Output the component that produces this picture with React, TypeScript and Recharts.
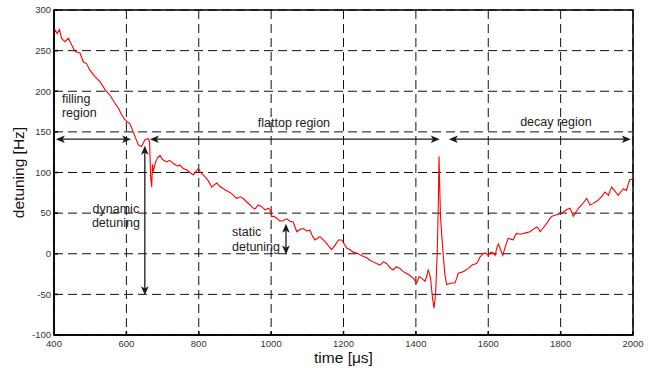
import {
  LineChart,
  Line,
  XAxis,
  YAxis,
  CartesianGrid,
  ReferenceLine,
  ReferenceArea,
  ReferenceDot
} from 'recharts'

// time in microseconds
const times = [
  400, 402, 409, 415, 421, 430, 440, 449, 458, 472, 481, 490, 499, 513, 527, 541, 555, 569, 578, 587,
  596, 610, 619, 633, 642, 651, 660, 664, 667, 670, 672, 674, 680, 686, 693, 700, 711, 720, 730, 740,
  748, 757, 767, 776, 785, 792, 799, 805, 817, 826, 836, 843, 850, 858, 868, 880, 891, 898, 905, 914,
  923, 932, 942, 948, 955, 964, 974, 983, 992, 997, 1001, 1008, 1015, 1025, 1034, 1043, 1052, 1061, 1066, 1071,
  1080, 1089, 1098, 1107, 1114, 1121, 1128, 1135, 1142, 1149, 1158, 1167, 1176, 1186, 1195, 1202, 1209, 1218, 1227, 1236,
  1245, 1254, 1264, 1273, 1282, 1291, 1301, 1310, 1319, 1328, 1337, 1346, 1356, 1365, 1374, 1384, 1393, 1402, 1409, 1416,
  1425, 1430, 1434, 1438, 1441, 1446, 1450, 1453, 1455, 1457, 1459, 1461, 1462, 1464, 1466, 1468, 1472, 1476, 1480, 1485,
  1492, 1499, 1508, 1513, 1517, 1524, 1531, 1538, 1545, 1550, 1554, 1561, 1568, 1573, 1577, 1582, 1586, 1593, 1600, 1607,
  1614, 1619, 1624, 1628, 1634, 1640, 1648, 1655, 1662, 1669, 1674, 1678, 1688, 1697, 1706, 1715, 1724, 1734, 1739, 1743,
  1752, 1761, 1768, 1775, 1782, 1789, 1796, 1803, 1812, 1820, 1826, 1830, 1835, 1842, 1849, 1858, 1865, 1872, 1877, 1881,
  1890, 1897, 1904, 1913, 1922, 1927, 1932, 1937, 1941, 1950, 1959, 1966, 1973, 1982, 1987, 1991, 2000
]

// detuning in Hz
const detuning = [
  270, 276, 271, 276, 265, 261, 265, 257, 249, 247, 236, 234, 226, 218, 212, 202, 195, 185, 179, 171,
  165, 160, 150, 134, 132, 140, 142, 138, 95, 82, 110, 101, 112, 118, 121, 116, 113, 115, 111, 108,
  109, 105, 103, 100, 97, 101, 105, 100, 95, 90, 82, 85, 87, 83, 80, 77, 74, 71, 68, 70,
  68, 64, 60, 57, 55, 60, 58, 54, 56, 54, 46, 46, 44, 40, 41, 43, 40, 39, 33, 27,
  30, 31, 28, 29, 22, 17, 19, 21, 18, 15, 10, 5, 10, 17, 17, 12, 7, 5, 2, 1,
  -1, -3, -5, -8, -10, -12, -14, -10, -12, -17, -20, -16, -18, -22, -24, -27, -30, -36, -28, -30,
  -34, -28, -20, -25, -32, -55, -67, -55, -45, -20, 0, 40, 60, 120, 80, 46, 20, -4, -25, -38,
  -37, -36, -36, -30, -24, -23, -22, -20, -18, -16, -14, -13, -12, -8, -4, -2, 0, 1, -2, 2,
  1, -2, 8, 12, 5, -2, 10, 19, 18, 17, 22, 25, 24, 25, 26, 27, 30, 33, 31, 27,
  32, 37, 42, 46, 47, 48, 49, 50, 53, 55, 56, 52, 46, 51, 56, 60, 64, 68, 64, 60,
  62, 64, 66, 70, 76, 74, 72, 78, 82, 77, 72, 76, 80, 78, 86, 91, 92
]

const xTicks = [400, 600, 800, 1000, 1200, 1400, 1600, 1800, 2000]
const yTicks = [-100, -50, 0, 50, 100, 150, 200, 250, 300]

// arrows: [x1, y1, x2, y2] in data units
const arrows = [
  [405, 141, 613, 141],
  [665, 141, 1466, 141],
  [1491, 141, 1994, 141],
  [651, 133, 651, -51],
  [1041, 37, 1041, -1]
]

// annotation texts: lines, anchor x, anchor y (first line), alignment
const notes = [
  { lines: ['filling', 'region'], x: 422, y: 191, anchor: 'start' },
  { lines: ['flattop region'], x: 1063, y: 161, anchor: 'middle' },
  { lines: ['decay region'], x: 1787, y: 163, anchor: 'middle' },
  { lines: ['dynamic', 'detuning'], x: 571, y: 56, anchor: 'middle' },
  { lines: ['static', 'detuning'], x: 892, y: 27, anchor: 'start' }
]

const data = times.map((t, i) => ({ t, v: detuning[i] }))

const FONT = '"Liberation Sans", Arial, Helvetica, sans-serif'

function head(tx: number, ty: number, ux: number, uy: number) {
  const L = 9
  const W = 3.8
  const N = 2.2
  const nx = -uy
  const ny = ux
  const bx = tx - ux * L
  const by = ty - uy * L
  const p = [
    [tx, ty],
    [bx + nx * W, by + ny * W],
    [tx - ux * (L - N), ty - uy * (L - N)],
    [bx - nx * W, by - ny * W]
  ]
  return 'M' + p.map((q) => q[0] + ',' + q[1]).join('L') + 'Z'
}

const Arrow = (props: any) => {
  const { x1, y1, x2, y2 } = props
  const len = Math.hypot(x2 - x1, y2 - y1) || 1
  const ux = (x2 - x1) / len
  const uy = (y2 - y1) / len
  const inset = 6
  return (
    <g>
      <line
        x1={x1 + ux * inset}
        y1={y1 + uy * inset}
        x2={x2 - ux * inset}
        y2={y2 - uy * inset}
        stroke="#1a1a1a"
        strokeWidth={1.3}
      />
      <path d={head(x2, y2, ux, uy)} fill="#1a1a1a" />
      <path d={head(x1, y1, -ux, -uy)} fill="#1a1a1a" />
    </g>
  )
}

const noteShape = (lines: string[], anchor: string) => (props: any) => {
  const { cx, cy } = props
  return (
    <text
      x={cx}
      y={cy}
      textAnchor={anchor as any}
      fontFamily={FONT}
      fontSize={12.5}
      fill="#222"
    >
      {lines.map((s, i) => (
        <tspan key={i} x={cx} dy={i === 0 ? '0.35em' : 14.5}>
          {s}
        </tspan>
      ))}
    </text>
  )
}

export default function App() {
  return (
    <div style={{ position: 'absolute', left: 0, top: 0, background: '#fff' }}>
      <LineChart
        width={649}
        height={368}
        data={data}
        margin={{ top: 10, right: 16, left: 0, bottom: 0 }}
      >
        <CartesianGrid stroke="#111" strokeDasharray="9 5" strokeWidth={1} />
        <XAxis
          dataKey="t"
          type="number"
          domain={[400, 2000]}
          ticks={xTicks}
          height={33}
          stroke="#000"
          strokeWidth={1.5}
          tickSize={-4}
          tickMargin={9}
          tick={{ fill: '#333', fontSize: 9.5, fontFamily: FONT }}
          label={{
            content: ({ viewBox }: any) => (
              <text
                x={viewBox.x + viewBox.width / 2}
                y={viewBox.y + 22}
                textAnchor="middle"
                dominantBaseline="central"
                fontFamily={FONT}
                fontSize={15.5}
                fill="#111"
              >
                time [μs]
              </text>
            )
          }}
        />
        <YAxis
          type="number"
          domain={[-100, 300]}
          ticks={yTicks}
          width={54}
          stroke="#000"
          strokeWidth={1.5}
          tickSize={-4}
          tickMargin={7}
          tick={{ fill: '#333', fontSize: 9.5, fontFamily: FONT }}
          label={{
            content: ({ viewBox }: any) => {
              const x = viewBox.x + 18
              const y = viewBox.y + viewBox.height / 2
              return (
                <text
                  x={x}
                  y={y}
                  transform={`rotate(-90, ${x}, ${y})`}
                  textAnchor="middle"
                  dominantBaseline="central"
                  fontFamily={FONT}
                  fontSize={15.5}
                  fill="#111"
                >
                  detuning [Hz]
                </text>
              )
            }
          }}
        />
        <ReferenceArea
          x1={400}
          x2={2000}
          y1={-100}
          y2={300}
          fill="none"
          stroke="#000"
          strokeWidth={1.5}
        />
        <Line
          dataKey="v"
          type="linear"
          stroke="#ff0000"
          strokeWidth={1.1}
          dot={false}
          isAnimationActive={false}
        />
        {arrows.map((a, i) => (
          <ReferenceLine
            key={'a' + i}
            segment={[
              { x: a[0], y: a[1] },
              { x: a[2], y: a[3] }
            ]}
            shape={Arrow}
          />
        ))}
        {notes.map((n, i) => (
          <ReferenceDot
            key={'n' + i}
            x={n.x}
            y={n.y}
            r={0}
            shape={noteShape(n.lines, n.anchor)}
          />
        ))}
      </LineChart>
    </div>
  )
}
